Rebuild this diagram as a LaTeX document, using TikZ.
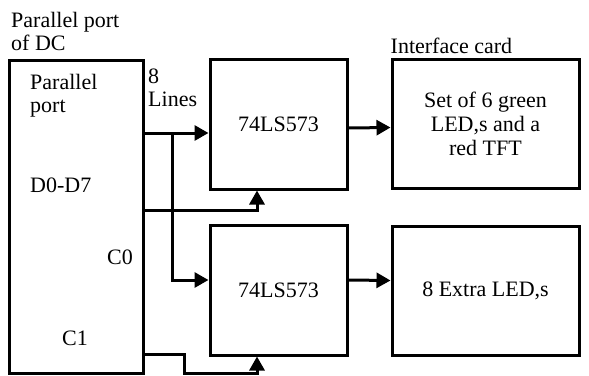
\documentclass[tikz,border=0pt]{standalone}
\usepackage{fontspec}
\setmainfont{Liberation Serif}
\usetikzlibrary{arrows.meta,positioning}
\tikzset{
  blk/.style={draw, line width=3pt, inner sep=0pt, align=center,
    font=\fontsize{22}{24}\selectfont},
  lbl/.style={inner sep=0pt, align=left, font=\fontsize{22}{23}\selectfont},
  conn/.style={line width=3pt, -{Triangle[length=14pt,width=15pt]}},
}
\begin{document}
\begin{tikzpicture}[x=1pt,y=-1pt]
    \useasboundingbox (0,0) rectangle (589,375);
    % blocks
    \node[blk, minimum width=134, minimum height=313] (pc) at (76,216.5) {};
    \node[blk, minimum width=137, minimum height=130] (latA) at (278.5,124) {74LS573};
    \node[blk, minimum width=137, minimum height=130] (latB) at (278.5,290) {74LS573};
    \node[blk, minimum width=187, minimum height=129] (card) at (485.5,123.5) {Set of 6 green\\LED,s and a\\red TFT};
    \node[blk, minimum width=187, minimum height=129] (extra) at (485.5,290.5) {8 Extra LED,s};
    % labels
    \node[lbl, anchor=west] (title) at (11,31) {Parallel port\\of DC};
    \node[lbl, anchor=west] (port) at (30,96) {Parallel\\port};
    \node[lbl, anchor=west] (data) at (30,185) {D0-D7};
    \node[lbl, anchor=east] (czero) at (133,257) {C0};
    \node[lbl, anchor=west] (cone) at (62,338) {C1};
    \node[lbl, anchor=west] (lines) at (148,88) {8\\Lines};
    \node[lbl, anchor=south west] (ifc) at ([yshift=4pt]card.north west) {Interface card};
    % wires
    \coordinate (dbus) at (pc.east |- 0,133);
    \coordinate (tap) at (172,133);
    \coordinate (cz) at (pc.east |- 0,210);
    \coordinate (co) at (pc.east |- 0,354);
    \draw[conn] (dbus) -- (dbus -| latA.west);
    \draw[conn] (tap) |- ([yshift=10pt]latB.west);
    \draw[conn] (cz) -| ([xshift=-21.5pt]latA.south);
    \draw[conn] (co) -- ++(40,0) -- ++(0,19) -| ([xshift=-21.5pt]latB.south);
    \draw[conn] ([yshift=-4pt]latA.east) -- ([yshift=-4pt]card.west);
    \draw[conn] ([yshift=10pt]latB.east) -- ([yshift=10pt]extra.west);
\end{tikzpicture}
\end{document}
